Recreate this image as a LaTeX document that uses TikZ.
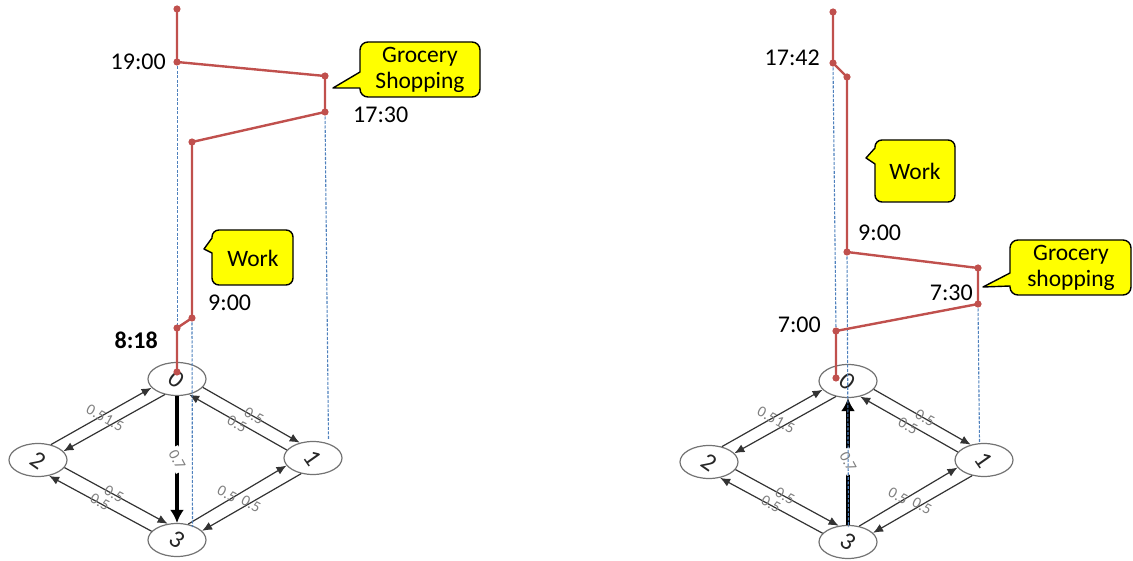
\documentclass[tikz,border=0pt]{standalone}
\usepackage{fontspec}
\setmainfont{Carlito}
\usetikzlibrary{arrows.meta,shapes.geometric}

\definecolor{tripred}{HTML}{C0504D}
\definecolor{projblue}{HTML}{4F81BD}
\definecolor{noteyellow}{HTML}{FFFF00}
\definecolor{edgelbl}{HTML}{7F7F7F}

\tikzset{
  state/.style={ellipse, draw=black!55, line width=1.2pt, minimum width=58pt,
    minimum height=33pt, inner sep=0pt, text=black!85, font=\fontsize{25}{25}\selectfont},
  trans/.style={draw=black!80, line width=1.2pt, -{Latex[length=10pt,width=8.5pt]}},
  heavy/.style={draw=black, line width=4pt, -{Latex[length=13pt,width=14pt]}},
  wt/.style={text=edgelbl, font=\fontsize{15.5}{15.5}\selectfont, inner sep=0pt},
  tripline/.style={draw=tripred, line width=2.4pt, line join=round},
  tripdot/.style={fill=tripred},
  projline/.style={draw=projblue, line width=1.1pt, dash pattern=on 3pt off 1.5pt},
  clock/.style={font=\fontsize{24}{24}\selectfont, inner sep=0pt},
  bubble/.style={draw=black, line width=1.4pt, fill=noteyellow, line join=round},
  bubbletext/.style={font=\fontsize{23.5}{26}\selectfont, align=center, inner sep=0pt},
  % four-state transition graph, drawn in the tilted plane
  mdp/.pic={
    \node[state] (-n0) at (0,0) {\rotatebox{-40}{0}};
    \node[state] (-n1) at (136,79) {\rotatebox{-55}{1}};
    \node[state] (-n2) at (-139,81) {\rotatebox{-35}{2}};
    \node[state] (-n3) at (0,161) {\rotatebox{-35}{3}};
    \draw[trans] (-n2.50) -- (-n0.199);
    \draw[trans] (-n0.232) -- (-n2.19);
    \draw[trans] (-n0.342) -- (-n1.131);
    \draw[trans] (-n1.163) -- (-n0.308);
    \draw[trans] (-n2.344) -- (-n3.120);
    \draw[trans] (-n3.161) -- (-n2.305);
    \draw[trans] (-n3.55) -- (-n1.196);
    \draw[trans] (-n1.233) -- (-n3.20);
    \node[wt, rotate=-28] (-w02a) at (-81,34) {0.5};
    \node[wt, rotate=-28] (-w02b) at (-63,44) {1.5};
    \node[wt, rotate=-28] (-w01a) at (77,37) {0.5};
    \node[wt, rotate=-28] (-w01b) at (60,45) {0.5};
    \node[wt, rotate=-28] (-w23a) at (-63,115) {0.5};
    \node[wt, rotate=-28] (-w23b) at (-77,123) {0.5};
    \node[wt, rotate=-28] (-w31a) at (50,115) {0.5};
    \node[wt, rotate=-28] (-w31b) at (74,125) {0.5};
  }
}

\begin{document}
\begin{tikzpicture}[x=1pt,y=-1pt]
\useasboundingbox (0,0) rectangle (1133,561);

% ---------- left: day plan A ----------
\pic (L) at (177,379) {mdp};
\draw[heavy] (L-n0) -- node[wt, fill=white, rotate=-62, inner sep=2.5pt] (L-w03) {0.7} (L-n3);

\coordinate (L1) at (177,9);
\coordinate (L2) at (177,62);
\coordinate (L3) at (325,76);
\coordinate (L4) at (325,112);
\coordinate (L5) at (192,142);
\coordinate (L6) at (192,318);
\coordinate (L7) at (177,328);
\coordinate (L8) at (177,372);
\coordinate (Lf) at (177.5,328);
\coordinate (Le) at (177.5,62);
\coordinate (Lg) at (192.5,527);
\coordinate (Lh) at (328.5,440);

\draw[projline] (Le) -- (Lf);
\draw[projline] (L6) -- (Lg);
\draw[projline] (L4) -- (Lh);

\draw[tripline] (L1) -- (L2) -- (L3) -- (L4) -- (L5) -- (L6) -- (L7) -- (L8);
\foreach \p in {L1,L2,L3,L4,L5,L6,L7,L8} \fill[tripdot] (\p) circle (3.6pt);

\node[clock, anchor=east] (t1900) at (166,62) {19:00};
\node[clock, anchor=west] (t1730) at (353,115) {17:30};
\node[clock, anchor=west] (t0900a) at (208,303) {9:00};
\node[clock, anchor=east, font=\fontsize{24}{24}\selectfont\bfseries] (t0818) at (158,340) {8:18};

\draw[bubble] (360,60) -- (360,72) -- (333,88) -- (360,88) [rounded corners=8pt]
  -- (360,97) -- (480,97) -- (480,42) -- (360,42) -- cycle;
\node[bubbletext] (gsA) at (420,70) {Grocery\\Shopping};

\draw[bubble] (212,268) -- (212,253) -- (204,249) -- (212,238) [rounded corners=7pt]
  -- (212,230) -- (293,230) -- (293,285) -- (212,285) -- cycle;
\node[bubbletext] (wkA) at (253,258) {Work};

% ---------- right: day plan B ----------
\pic (R) at (848,381) {mdp};
\draw[heavy] (R-n3) -- node[wt, fill=white, rotate=-62, inner sep=2.5pt] (R-w03) {0.7} (R-n0);

\coordinate (R1) at (833,12);
\coordinate (R2) at (833,63);
\coordinate (R3) at (847,77);
\coordinate (R4) at (847,252);
\coordinate (R5) at (978,268);
\coordinate (R6) at (978,304);
\coordinate (R7) at (836,331);
\coordinate (R8) at (836,378);
\coordinate (Rg) at (848.5,527);
\coordinate (Rh) at (979.5,442);

\draw[projline] (R2) -- (R7);
\draw[projline] (R4) -- (Rg);
\draw[projline] (R6) -- (Rh);

\draw[tripline] (R1) -- (R2) -- (R3) -- (R4) -- (R5) -- (R6) -- (R7) -- (R8);
\foreach \p in {R1,R2,R3,R4,R5,R6,R7,R8} \fill[tripdot] (\p) circle (3.6pt);

\node[clock, anchor=east] (t1742) at (820,58) {17:42};
\node[clock, anchor=west] (t0900b) at (858,233) {9:00};
\node[clock, anchor=east] (t0730) at (973,293) {7:30};
\node[clock, anchor=east] (t0700) at (821,325) {7:00};

\draw[bubble] (1010,260) -- (1010,273) -- (983,287) -- (1010,286) [rounded corners=8pt]
  -- (1010,295) -- (1131,295) -- (1131,240) -- (1010,240) -- cycle;
\node[bubbletext] (gsB) at (1071,268) {Grocery\\shopping};

\draw[bubble] (875,185) -- (875,164) -- (866,158) -- (875,148) [rounded corners=7pt]
  -- (875,140) -- (955,140) -- (955,202) -- (875,202) -- cycle;
\node[bubbletext] (wkB) at (915,171) {Work};

\end{tikzpicture}
\end{document}
